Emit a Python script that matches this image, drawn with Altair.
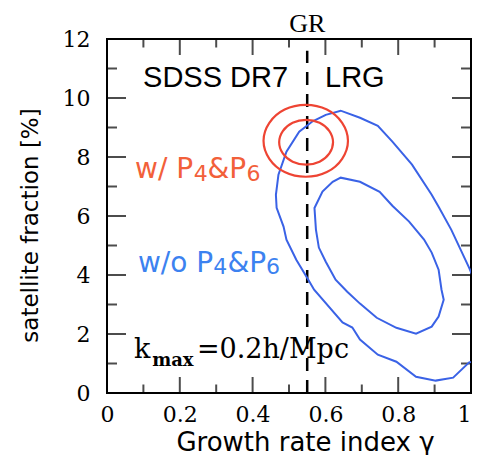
import altair as alt
import pandas as pd

# ---------------- data ----------------
# red contours (with P4 & P6), (gamma, satellite fraction %)
red_outer_x = [0.662, 0.646, 0.604, 0.546, 0.488, 0.446, 0.430, 0.446, 0.488, 0.546, 0.604, 0.646]
red_outer_y = [8.55, 9.16, 9.61, 9.77, 9.61, 9.16, 8.55, 7.94, 7.49, 7.33, 7.49, 7.94]
red_inner_x = [0.621, 0.611, 0.584, 0.547, 0.510, 0.483, 0.473, 0.483, 0.510, 0.547, 0.584, 0.611]
red_inner_y = [8.50, 8.88, 9.16, 9.26, 9.16, 8.88, 8.50, 8.12, 7.84, 7.74, 7.84, 8.12]

# blue contours (without P4 & P6)
blue_outer_x = [0.464, 0.471, 0.493, 0.528, 0.565, 0.601, 0.642, 0.695, 0.744, 0.784, 0.838, 0.892,
                0.911, 0.946, 0.995, 1.032, 1.046, 1.027, 0.995, 0.951, 0.903, 0.849, 0.795, 0.744,
                0.695, 0.674, 0.647, 0.569, 0.553, 0.520, 0.493, 0.485, 0.466]
blue_outer_y = [6.72, 7.40, 8.18, 8.86, 9.21, 9.43, 9.57, 9.33, 9.06, 8.52, 7.74, 6.72,
                6.31, 5.53, 4.24, 3.16, 1.98, 1.13, 1.04, 0.52, 0.42, 0.55, 1.06, 1.30,
                1.81, 2.22, 2.39, 3.50, 3.84, 4.52, 5.20, 5.64, 6.28]
blue_inner_x = [0.570, 0.592, 0.620, 0.642, 0.695, 0.749, 0.784, 0.830, 0.871, 0.892, 0.911, 0.919,
                0.925, 0.911, 0.892, 0.849, 0.795, 0.741, 0.695, 0.660, 0.628, 0.601, 0.582, 0.574]
blue_inner_y = [6.27, 6.83, 7.16, 7.30, 7.16, 6.82, 6.35, 5.81, 5.20, 4.76, 4.18, 3.50,
                3.16, 2.59, 2.25, 2.01, 2.21, 2.55, 3.03, 3.43, 3.84, 4.45, 4.93, 5.54]

gr_value = 0.55
gr_top = 11.6

x_major = [0, 0.2, 0.4, 0.6, 0.8, 1.0]
x_minor = [0.1, 0.3, 0.5, 0.7, 0.9]
y_major = [0, 2, 4, 6, 8, 10, 12]
y_minor = [1, 3, 5, 7, 9, 11]

# annotation texts, split in pieces with their anchor points (data units)
sans_texts = ["SDSS DR7", "LRG"]
sans_x = [0.099, 0.599]
sans_y = [10.38, 10.38]

red_parts = ["w/ P", "&", "P"]
red_parts_x = [0.077, 0.276, 0.336]
red_parts_y = [7.30, 7.30, 7.30]
red_subs = ["4", "6"]
red_subs_x = [0.238, 0.383]
red_subs_y = [7.19, 7.19]

blue_parts = ["w/o P", "&", "P"]
blue_parts_x = [0.085, 0.331, 0.391]
blue_parts_y = [4.11, 4.11, 4.11]
blue_subs = ["4", "6"]
blue_subs_x = [0.292, 0.437]
blue_subs_y = [4.03, 4.03]

k_parts = ["k", "=0.2h/Mpc"]
k_x = [0.074, 0.247]
k_y = [1.19, 1.19]
k_sub = ["max"]
k_sub_x = [0.124]
k_sub_y = [0.90]

RED = "#EE4433"
RED_TXT = "#F2603A"
BLUE = "#3A62E6"
BLUE_TXT = "#3C82F0"

# ---------------- build tables ----------------
def contour(name, xs, ys):
    return pd.DataFrame({"x": xs, "y": ys, "i": list(range(len(xs))), "c": [name] * len(xs)})

red_df = pd.concat([contour("ro", red_outer_x, red_outer_y), contour("ri", red_inner_x, red_inner_y)])
blue_df = pd.concat([contour("bo", blue_outer_x, blue_outer_y), contour("bi", blue_inner_x, blue_inner_y)])

xs = alt.Scale(domain=[0, 1], nice=False, zero=False)
ys = alt.Scale(domain=[0, 12], nice=False, zero=False)

x_axis = alt.Axis(values=x_major, format="~g", ticks=False, domain=False, grid=False,
                  labelFont="DejaVu Serif", labelFontSize=22, labelPadding=11, labelColor="black",
                  labelFlush=False,
                  labelAlign={"condition": {"test": "datum.value >= 1", "value": "right"}, "value": "center"},
                  title="Growth rate index γ", titleFont="DejaVu Sans", titleFontSize=26,
                  titleFontWeight="normal", titleColor="black", titleX=198, titleY=57,
                  titleBaseline="alphabetic", titleAlign="center")
y_axis = alt.Axis(values=y_major, format="d", ticks=False, domain=False, grid=False,
                  labelFont="DejaVu Serif", labelFontSize=22, labelPadding=17, labelColor="black",
                  labelFlush=False,
                  title="satellite fraction [%]", titleFont="DejaVu Sans", titleFontSize=23,
                  titleFontWeight="normal", titleColor="black", titleX=-77, titleY=186,
                  titleAngle=270, titleBaseline="middle", titleAlign="center")

X = alt.X("x:Q", scale=xs, axis=x_axis)
Y = alt.Y("y:Q", scale=ys, axis=y_axis)

red_layer = alt.Chart(red_df).mark_line(color=RED, strokeWidth=2.2, interpolate="cardinal-closed", clip=True).encode(
    x=X, y=Y, order="i:Q", detail="c:N")
blue_layer = alt.Chart(blue_df).mark_line(color=BLUE, strokeWidth=2, interpolate="linear-closed", clip=True).encode(
    x=X, y=Y, order="i:Q", detail="c:N")

gr_df = pd.DataFrame({"x": [gr_value], "y": [0], "y2": [gr_top]})
gr_line = alt.Chart(gr_df).mark_rule(color="black", strokeWidth=2.5, strokeDash=[13, 9]).encode(
    x=X, y=Y, y2="y2:Q")
gr_text = alt.Chart(pd.DataFrame({"x": [gr_value], "y": [12.25], "t": ["GR"]})).mark_text(
    font="Liberation Serif", fontSize=26, align="center", baseline="alphabetic", color="black").encode(
    x=X, y=Y, text="t:N")

# inward ticks on all four sides
def ticks(vals, edge_a, edge_b, along_x, size):
    if along_x:
        df = pd.DataFrame({"x": vals * 2, "y": [edge_a] * len(vals) + [edge_b] * len(vals)})
        orient = "vertical"
    else:
        df = pd.DataFrame({"y": vals * 2, "x": [edge_a] * len(vals) + [edge_b] * len(vals)})
        orient = "horizontal"
    return alt.Chart(df).mark_tick(orient=orient, size=size, thickness=2, color="black", clip=True).encode(
        x=X, y=Y)

tick_layers = [
    ticks(x_major, 0, 12, True, 32),
    ticks(x_minor, 0, 12, True, 17),
    ticks(y_major, 0, 1, False, 38),
    ticks(y_minor, 0, 1, False, 20),
]

def text_layer(texts, tx, ty, font, size, color, weight="normal"):
    df = pd.DataFrame({"x": tx, "y": ty, "t": texts})
    return alt.Chart(df).mark_text(font=font, fontSize=size, fontWeight=weight, align="left",
                                   baseline="alphabetic", color=color).encode(x=X, y=Y, text="t:N")

text_layers = [
    text_layer(sans_texts, sans_x, sans_y, "Liberation Sans", 29, "black"),
    text_layer(red_parts, red_parts_x, red_parts_y, "DejaVu Sans", 28, RED_TXT),
    text_layer(red_subs, red_subs_x, red_subs_y, "DejaVu Sans", 22, RED_TXT),
    text_layer(blue_parts, blue_parts_x, blue_parts_y, "DejaVu Sans", 28, BLUE_TXT),
    text_layer(blue_subs, blue_subs_x, blue_subs_y, "DejaVu Sans", 22, BLUE_TXT),
    text_layer(k_parts, k_x, k_y, "DejaVu Serif", 27, "black"),
    text_layer(k_sub, k_sub_x, k_sub_y, "DejaVu Serif", 18, "black", "bold"),
]

chart = alt.layer(
    *tick_layers, gr_line, blue_layer, red_layer, gr_text, *text_layers
).properties(
    width=364, height=354,
    autosize=alt.AutoSizeParams(type="none"),
    padding={"left": 99, "top": 31, "right": 1, "bottom": 62},
    background="white",
).configure_view(stroke="black", strokeWidth=2)

chart.save("out.html", embed_options={"renderer": "svg", "actions": False})
